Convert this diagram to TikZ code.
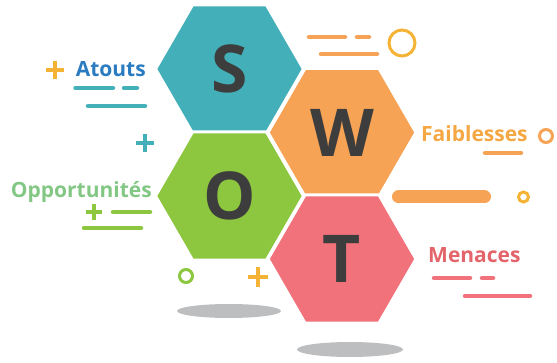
\documentclass[tikz,border=0pt]{standalone}
\usepackage{fontspec}
\setmainfont{Open Sans}
\usetikzlibrary{shapes.geometric}
\definecolor{teal1}{HTML}{43AFB8}
\definecolor{orange1}{HTML}{F7A356}
\definecolor{green1}{HTML}{8DC63F}
\definecolor{red1}{HTML}{F1727A}
\definecolor{blueT}{HTML}{2B7BC1}
\definecolor{orangeT}{HTML}{F5A743}
\definecolor{greenT}{HTML}{83C785}
\definecolor{redT}{HTML}{E3646A}
\definecolor{yel}{HTML}{F5B335}
\definecolor{shadow}{HTML}{BDBEC0}
\definecolor{letter}{HTML}{3D3D3D}
\tikzset{
  hexa/.style={regular polygon, regular polygon sides=6, minimum size=148pt, inner sep=0pt,
    draw=white, line width=3pt, text=letter,
    font=\fontsize{66}{66}\selectfont\bfseries},
  lbl/.style={font=\fontsize{21}{21}\selectfont\bfseries, inner sep=0pt},
  dash1/.style={line width=4.5pt, line cap=round},
  ring/.style={line width=3pt},
  plus/.style={line width=3.5pt},
}
\begin{document}
\begin{tikzpicture}[x=1pt,y=-1pt]
\useasboundingbox (0,0) rectangle (557,363);
% shadows
\fill[shadow] (229,311) ellipse [x radius=52pt, y radius=7pt];
\fill[shadow] (350,349.5) ellipse [x radius=53pt, y radius=7.5pt];
% hexagons
\node[hexa, fill=teal1] (S) at (229.5,69) {S};
\node[hexa, fill=green1] (O) at (229.5,196) {O};
\node[hexa, fill=orange1] (W) at (342,132.5) {W};
\node[hexa, fill=red1] (T) at (342,259) {T};
% labels
\node[lbl, text=blueT, anchor=base east] (lS) at (146,77) {Atouts};
\node[lbl, text=orangeT, anchor=base west] (lW) at (421,142) {Faiblesses};
\node[lbl, text=greenT, anchor=base east] (lO) at (152,198) {Opportunités};
\node[lbl, text=redT, anchor=base west] (lT) at (428,263) {Menaces};
% teal decorations
\draw[dash1, teal1] (75.5,88) -- (113,88);
\draw[dash1, teal1] (124,88) -- (137,88);
\draw[dash1, teal1] (88,106) -- (145,106);
\draw[plus, teal1] (136,143) -- (154,143) (145,134) -- (145,152);
\draw[plus, yel] (46,70) -- (64,70) (55,61) -- (55,79);
% orange decorations
\draw[dash1, orange1] (309,37) -- (345,37);
\draw[dash1, orange1] (357,37) -- (369,37);
\draw[dash1, orange1] (321,54) -- (377,54);
\draw[ring, yel] (402,43) circle [radius=13pt];
\draw[ring, orange1] (546,136) circle [radius=6.5pt];
\draw[dash1, orange1] (485,153) -- (521,153);
\draw[line width=13pt, line cap=round, orange1] (398.5,197) -- (484.5,197);
\draw[ring, yel] (523.5,197) circle [radius=5pt];
% green decorations
\draw[plus, green1] (86,212) -- (102,212) (94,204) -- (94,220);
\draw[dash1, green1] (113,212) -- (150,212);
\draw[dash1, green1] (84,228) -- (141,228);
\draw[ring, green1] (186,276) circle [radius=6.5pt];
\draw[plus, yel] (248,277) -- (268,277) (258,267) -- (258,287);
% red decorations
\draw[dash1, red1] (434,278) -- (470,278);
\draw[dash1, red1] (482,278) -- (493,278);
\draw[dash1, red1] (465,296) -- (530,296);
\end{tikzpicture}
\end{document}
